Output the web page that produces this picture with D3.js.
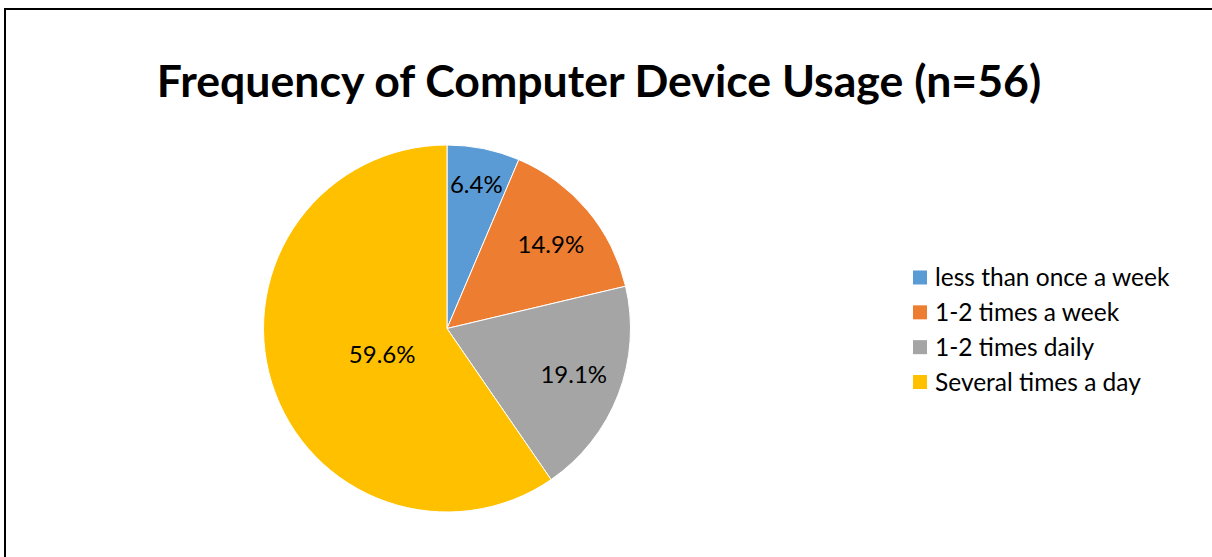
<!DOCTYPE html>
<html>
<head>
<meta charset="utf-8">
<script src="https://cdn.jsdelivr.net/npm/d3@7"></script>
<style>
  html, body { margin: 0; padding: 0; background: #fff; }
  svg { display: block; }
  text { font-family: Lato, "Open Sans", sans-serif; fill: #000; }
</style>
</head>
<body>
<svg id="chart" width="1212" height="557"></svg>
<script>
// Usage frequency categories and their shares (%)
const categories = ["less than once a week", "1-2 times a week", "1-2 times daily", "Several times a day"];
const shares = [6.4, 14.9, 19.1, 59.6];
const colors = ["#5B9BD5", "#ED7D31", "#A5A5A5", "#FFC000"];
const title = "Frequency of Computer Device Usage (n=56)";

const svg = d3.select("#chart");
const W = 1212, H = 557;

// outer frame (right and bottom edges run off the canvas)
svg.append("rect")
  .attr("x", 5).attr("y", 9)
  .attr("width", W + 20).attr("height", H + 20)
  .attr("fill", "#fff")
  .attr("stroke", "#000")
  .attr("stroke-width", 2);

svg.append("text")
  .attr("x", 599).attr("y", 97)
  .attr("text-anchor", "middle")
  .style("font-size", "44.6px")
  .style("font-weight", "bold")
  .text(title);

const data = categories.map((c, i) => ({ category: c, value: shares[i], color: colors[i] }));

const cx = 447, cy = 328.5, radius = 183.5;
const pie = d3.pie().value(d => d.value).sort(null);
const arcs = pie(data);
const arc = d3.arc().innerRadius(0).outerRadius(radius);

const g = svg.append("g").attr("transform", `translate(${cx},${cy})`);

g.selectAll("path.slice")
  .data(arcs)
  .enter().append("path")
  .attr("class", "slice")
  .attr("d", arc)
  .attr("fill", d => d.data.color)
  .attr("stroke", "#fff")
  .attr("stroke-width", 1);

// best-fit style label placement: fraction of radius and vertical nudge per slice
const labelFrac = [0.80, 0.74, 0.74, 0.37];
const labelNudge = [0, 3, -3, 6];
const fmt = d => d.toFixed(1) + "%";

g.selectAll("text.lbl")
  .data(arcs)
  .enter().append("text")
  .attr("class", "lbl")
  .attr("transform", (d, i) => {
    const r = radius * labelFrac[i];
    const c = d3.arc().innerRadius(r).outerRadius(r).centroid(d);
    return `translate(${c[0]},${c[1] + labelNudge[i]})`;
  })
  .attr("text-anchor", "middle")
  .attr("dy", "0.36em")
  .style("font-size", "24px")
  .text(d => fmt(d.data.value));

// legend
const legend = svg.append("g").attr("transform", "translate(913,0)");
const rowY = d3.scalePoint().domain(categories).range([277.5, 382]);

const item = legend.selectAll("g.item")
  .data(data)
  .enter().append("g")
  .attr("class", "item")
  .attr("transform", d => `translate(0,${rowY(d.category)})`);

item.append("rect")
  .attr("x", 0).attr("y", -7)
  .attr("width", 14).attr("height", 14)
  .attr("fill", d => d.color);

item.append("text")
  .attr("x", 22).attr("y", 0)
  .attr("dy", "0.36em")
  .style("font-size", "24.5px")
  .text(d => d.category);
</script>
</body>
</html>
